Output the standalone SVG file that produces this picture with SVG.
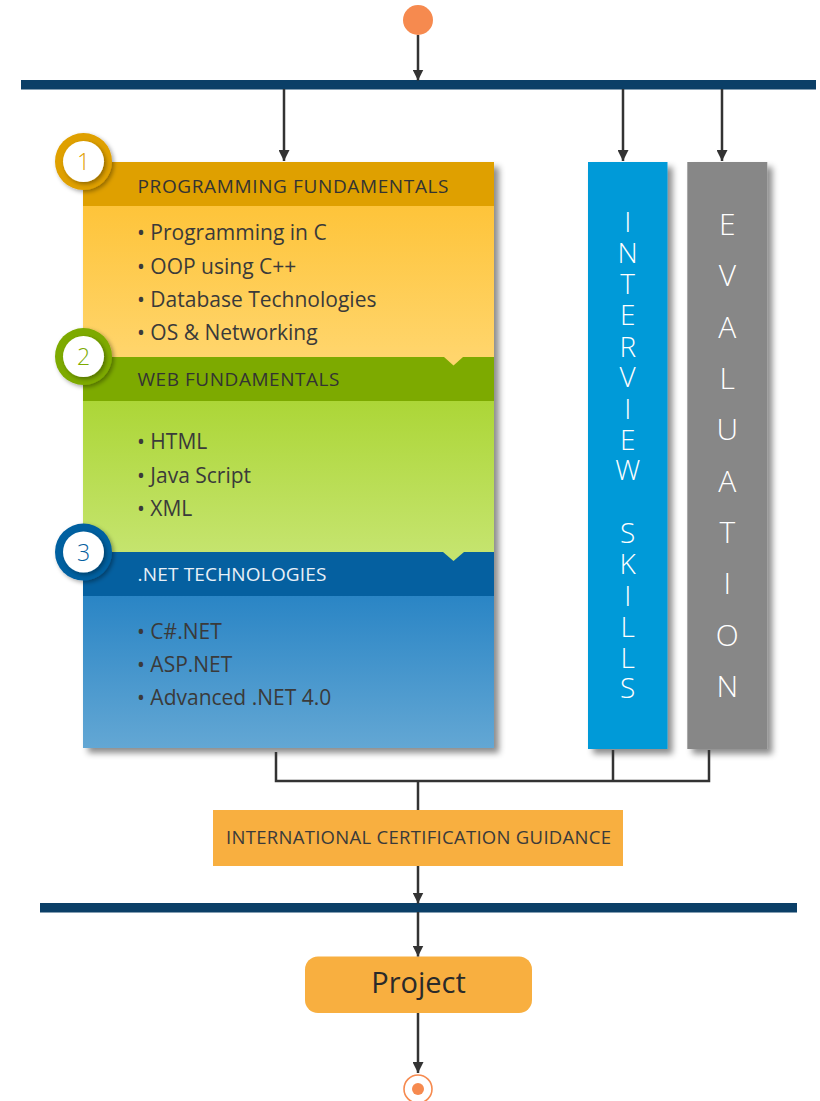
<svg xmlns="http://www.w3.org/2000/svg" width="820" height="1101" viewBox="0 0 820 1101">
<style>
.hdr{font-family:"Open Sans","Noto Sans","Liberation Sans",sans-serif;font-size:19px;fill:#333333}
.item{font-family:"Open Sans","Noto Sans","Liberation Sans",sans-serif;font-size:21px;fill:#3a3a3a}
.vert{font-family:"Open Sans","Noto Sans","Liberation Sans",sans-serif;fill:#ffffff;text-anchor:middle;font-weight:300}
.num{font-family:"Open Sans","Noto Sans","Liberation Sans",sans-serif;font-size:23px;text-anchor:middle;font-weight:300}
.conn{stroke:#333333;stroke-width:2.5;fill:none}
.bar{fill:#0b3f67}
</style>
<defs>
<marker id="arr" viewBox="0 0 10 10" refX="10" refY="5" markerWidth="11" markerHeight="11" markerUnits="userSpaceOnUse" orient="auto">
<path d="M0,0 L10,5 L0,10 z" fill="#333333"/>
</marker>
<filter id="sh" x="-10%" y="-5%" width="130%" height="115%">
<feDropShadow dx="5" dy="5" stdDeviation="3" flood-color="#000" flood-opacity="0.45"/>
</filter>
<filter id="csh" x="-30%" y="-30%" width="160%" height="160%">
<feDropShadow dx="2" dy="2" stdDeviation="2" flood-color="#000" flood-opacity="0.35"/>
</filter>
<linearGradient id="g1" x1="0" y1="0" x2="0" y2="1"><stop offset="0" stop-color="#fec43a"/><stop offset="1" stop-color="#ffd56c"/></linearGradient>
<linearGradient id="g2" x1="0" y1="0" x2="0" y2="1"><stop offset="0" stop-color="#acd637"/><stop offset="1" stop-color="#c5e46e"/></linearGradient>
<linearGradient id="g3" x1="0" y1="0" x2="0" y2="1"><stop offset="0" stop-color="#2a85c5"/><stop offset="1" stop-color="#63a7d4"/></linearGradient>
</defs>

<g id="start"><circle cx="418" cy="20" r="15" fill="#f68a4f"/></g>
<g id="bar-top"><rect class="bar" x="21" y="80" width="795" height="9.5"/></g>

<g id="curriculum">
<rect x="83" y="162" width="411" height="586" fill="#fff" filter="url(#sh)"/>
<rect x="83" y="206" width="411" height="151" fill="url(#g1)"/>
<rect x="83" y="162" width="411" height="44" fill="#dfa000"/>
<rect x="83" y="401" width="411" height="151" fill="url(#g2)"/>
<rect x="83" y="357" width="411" height="44" fill="#7daa00"/>
<path d="M444,357 L463,357 L453.5,365.5 z" fill="#ffd56c"/>
<rect x="83" y="596" width="411" height="152" fill="url(#g3)"/>
<rect x="83" y="552" width="411" height="44" fill="#0560a0"/>
<path d="M443,552 L464,552 L453.5,561 z" fill="#c5e46e"/>

<text class="hdr" x="137.5" y="193" textLength="311">PROGRAMMING FUNDAMENTALS</text>
<text class="item" x="137" y="240">• Programming in C</text>
<text class="item" x="137" y="273.5">• OOP using C++</text>
<text class="item" x="137" y="307">• Database Technologies</text>
<text class="item" x="137" y="340">• OS &amp; Networking</text>

<text class="hdr" x="137.5" y="386" textLength="202">WEB FUNDAMENTALS</text>
<text class="item" x="137" y="449">• HTML</text>
<text class="item" x="137" y="482.5">• Java Script</text>
<text class="item" x="137" y="516">• XML</text>

<text class="hdr" x="137.5" y="581" textLength="189" style="fill:#e8f0f8">.NET TECHNOLOGIES</text>
<text class="item" x="137" y="638.5">• C#.NET</text>
<text class="item" x="137" y="672">• ASP.NET</text>
<text class="item" x="137" y="705">• Advanced .NET 4.0</text>
</g>

<g id="badge1">
<circle cx="83.5" cy="161.5" r="28.5" fill="#dfa000" filter="url(#csh)"/>
<circle cx="83.5" cy="161.5" r="20.5" fill="#ffffff" filter="url(#csh)"/>
<text class="num" x="83.5" y="170" style="fill:#dfa000">1</text>
</g>
<g id="badge2">
<circle cx="83.5" cy="356.5" r="28.5" fill="#7daa00" filter="url(#csh)"/>
<circle cx="83.5" cy="356.5" r="20.5" fill="#ffffff" filter="url(#csh)"/>
<text class="num" x="83.5" y="365" style="fill:#7daa00">2</text>
</g>
<g id="badge3">
<circle cx="83.5" cy="552" r="28.5" fill="#0560a0" filter="url(#csh)"/>
<circle cx="83.5" cy="552" r="20.5" fill="#ffffff" filter="url(#csh)"/>
<text class="num" x="83.5" y="560.5" style="fill:#0560a0">3</text>
</g>

<g id="interview-skills">
<rect x="588" y="162" width="79.5" height="587" fill="#009ad8" filter="url(#sh)"/>
<text class="vert" font-size="28"><tspan x="627.7" y="232">I</tspan><tspan x="627.7" y="263">N</tspan><tspan x="627.7" y="294">T</tspan><tspan x="627.7" y="325">E</tspan><tspan x="627.7" y="356.5">R</tspan><tspan x="627.7" y="387">V</tspan><tspan x="627.7" y="418.5">I</tspan><tspan x="627.7" y="449.5">E</tspan><tspan x="627.7" y="480">W</tspan><tspan x="627.7" y="543">S</tspan><tspan x="627.7" y="574">K</tspan><tspan x="627.7" y="605.5">I</tspan><tspan x="627.7" y="637">L</tspan><tspan x="627.7" y="668">L</tspan><tspan x="627.7" y="698">S</tspan></text>
</g>

<g id="evaluation">
<rect x="687.3" y="162" width="80" height="587" fill="#878787" filter="url(#sh)"/>
<text class="vert" font-size="30"><tspan x="727.3" y="235">E</tspan><tspan x="727.3" y="286.3">V</tspan><tspan x="727.3" y="337.6">A</tspan><tspan x="727.3" y="389">L</tspan><tspan x="727.3" y="440.3">U</tspan><tspan x="727.3" y="491.6">A</tspan><tspan x="727.3" y="543">T</tspan><tspan x="727.3" y="594">I</tspan><tspan x="727.3" y="645.6">O</tspan><tspan x="727.3" y="697">N</tspan></text>
</g>

<g id="certification">
<rect x="213" y="810" width="410" height="56" fill="#f8af40"/>
<text x="418.5" y="844" text-anchor="middle" textLength="385" style="font-family:'Open Sans','Noto Sans','Liberation Sans',sans-serif;font-size:18.5px;fill:#3a3a3a">INTERNATIONAL CERTIFICATION GUIDANCE</text>
</g>

<g id="bar-bottom"><rect class="bar" x="40" y="903" width="757" height="9.5"/></g>

<g id="project">
<rect x="305" y="956.5" width="227" height="56.5" rx="13" fill="#f8af40"/>
<text x="418.5" y="993" text-anchor="middle" style="font-family:'Open Sans','Noto Sans','Liberation Sans',sans-serif;font-size:29px;fill:#2a2a2a">Project</text>
</g>

<g id="end">
<circle cx="418" cy="1089" r="14" fill="#fff" stroke="#f68a4f" stroke-width="1.6"/>
<circle cx="418" cy="1089" r="6" fill="#f68a4f"/>
</g>

<g id="connectors">
<line class="conn" x1="418" y1="35" x2="418" y2="80.5" marker-end="url(#arr)"/>
<line class="conn" x1="284" y1="89" x2="284" y2="161" marker-end="url(#arr)"/>
<line class="conn" x1="623" y1="89" x2="623" y2="161" marker-end="url(#arr)"/>
<line class="conn" x1="722" y1="89" x2="722" y2="161" marker-end="url(#arr)"/>
<polyline class="conn" points="276,752 276,781 709,781 709,750"/>
<line class="conn" x1="613" y1="750" x2="613" y2="781"/>
<line class="conn" x1="418" y1="781" x2="418" y2="810"/>
<line class="conn" x1="418" y1="866" x2="418" y2="903.5" marker-end="url(#arr)"/>
<line class="conn" x1="418" y1="912" x2="418" y2="956.5" marker-end="url(#arr)"/>
<line class="conn" x1="418" y1="1013" x2="418" y2="1073" marker-end="url(#arr)"/>
</g>
</svg>
